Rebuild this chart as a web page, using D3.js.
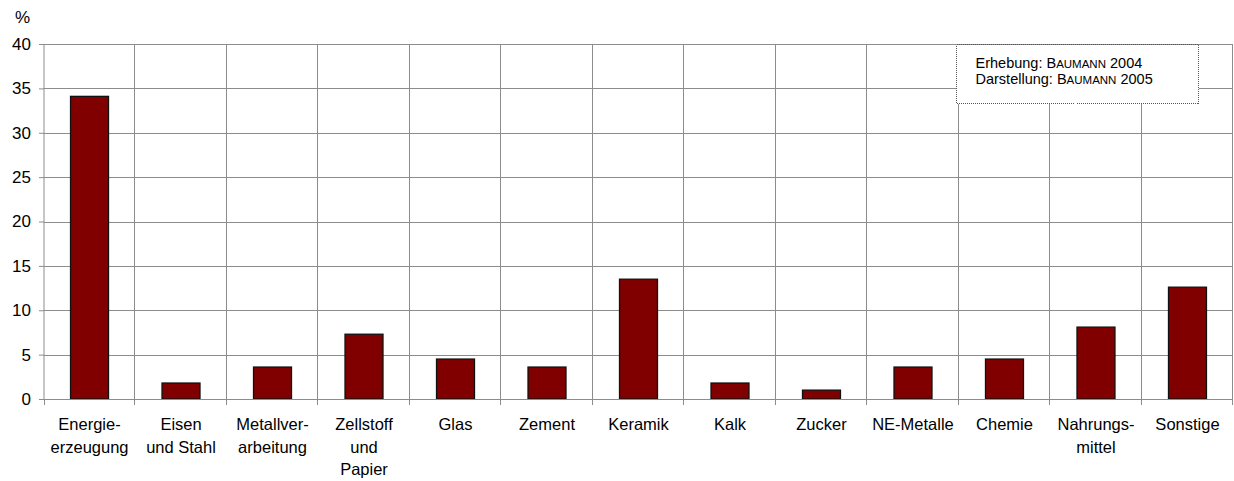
<!DOCTYPE html>
<html>
<head>
<meta charset="utf-8">
<script src="https://cdn.jsdelivr.net/npm/d3@7"></script>
<style>
  body { margin: 0; background: #fff; }
  text { font-family: Arial, "Liberation Sans", sans-serif; fill: #000; }
</style>
</head>
<body>
<div id="chart"></div>
<script>
// categories (line breaks as in the original labels)
const categories = [
    ["Energie-", "erzeugung"],
    ["Eisen", "und Stahl"],
    ["Metallver-", "arbeitung"],
    ["Zellstoff", "und", "Papier"],
    ["Glas"],
    ["Zement"],
    ["Keramik"],
    ["Kalk"],
    ["Zucker"],
    ["NE-Metalle"],
    ["Chemie"],
    ["Nahrungs-", "mittel"],
    ["Sonstige"]
];
const values = [34.1, 1.8, 3.6, 7.3, 4.5, 3.6, 13.5, 1.8, 1.0, 3.6, 4.5, 8.1, 12.6];
const yTicks = [0, 5, 10, 15, 20, 25, 30, 35, 40];

const width = 1234, height = 481;
const margins = {top: 44, right: 1, bottom: 82, left: 44};
const plotW = width - margins.left - margins.right;
const plotH = height - margins.top - margins.bottom;

const svg = d3.select("#chart").append("svg")
    .attr("width", width)
    .attr("height", height);

const g = svg.append("g")
    .attr("transform", "translate(" + margins.left + "," + margins.top + ")");

const x = d3.scaleBand()
    .domain(d3.range(categories.length))
    .range([0, plotW])
    .paddingInner(0.585)
    .paddingOuter(0.29);

const y = d3.scaleLinear().domain([0, 40]).range([plotH, 0]);

const bounds = d3.range(categories.length + 1).map(i => i * plotW / categories.length);

// horizontal gridlines
g.append("g").selectAll("line")
    .data(yTicks.filter(d => d > 0))
    .enter().append("line")
    .attr("x1", 0).attr("x2", plotW)
    .attr("y1", d => Math.round(y(d)) + 0.5)
    .attr("y2", d => Math.round(y(d)) + 0.5)
    .attr("stroke", "#8c8c8c");

// vertical gridlines between categories (they go on as tick marks below the axis)
g.append("g").selectAll("line")
    .data(bounds.slice(1))
    .enter().append("line")
    .attr("x1", d => Math.round(d) - 0.5).attr("x2", d => Math.round(d) - 0.5)
    .attr("y1", 0).attr("y2", plotH + 6)
    .attr("stroke", "#8c8c8c");

// note box
const note = g.append("g").attr("transform", "translate(912.5,0.5)");
note.append("rect")
    .attr("width", 242).attr("height", 59)
    .attr("fill", "#fff")
    .attr("stroke", "#555")
    .attr("stroke-dasharray", "1,1")
    .attr("shape-rendering", "crispEdges");
const noteLines = [["Erhebung: B", "AUMANN", " 2004"], ["Darstellung: B", "AUMANN", " 2005"]];
noteLines.forEach((ln, i) => {
    const t = note.append("text")
        .attr("x", 19).attr("y", 23.5 + i * 15.5)
        .style("font-size", "14.5px");
    t.append("tspan").text(ln[0]);
    t.append("tspan").style("font-size", "11.5px").text(ln[1]);
    t.append("tspan").text(ln[2]);
});

// bars
g.append("g").selectAll("rect")
    .data(values)
    .enter().append("rect")
    .attr("x", (d, i) => x(i))
    .attr("y", d => y(d))
    .attr("width", x.bandwidth())
    .attr("height", d => plotH - y(d))
    .attr("fill", "#800000")
    .attr("stroke", "#111")
    .attr("stroke-width", 1.3);

// y axis
const yAxis = g.append("g")
    .call(d3.axisLeft(y).tickValues(yTicks).tickSize(5).tickPadding(8));
yAxis.select(".domain").attr("stroke", "#8c8c8c").attr("d", "M0," + plotH + "V0");
yAxis.selectAll(".tick line").attr("stroke", "#8c8c8c");
yAxis.selectAll(".tick text")
    .style("font-size", "17px")
    .style("font-family", "Arial, 'Liberation Sans', sans-serif");

// x axis baseline
g.append("line")
    .attr("x1", 0).attr("x2", plotW)
    .attr("y1", plotH + 0.5).attr("y2", plotH + 0.5)
    .attr("stroke", "#8c8c8c");
g.append("line")
    .attr("x1", 0.5).attr("x2", 0.5)
    .attr("y1", plotH).attr("y2", plotH + 6)
    .attr("stroke", "#8c8c8c");

// category labels
const labels = g.append("g").selectAll("text")
    .data(categories)
    .enter().append("text")
    .attr("text-anchor", "middle")
    .attr("transform", (d, i) => "translate(" + (x(i) + x.bandwidth() / 2) + "," + (plotH + 31) + ")")
    .style("font-size", "16.5px");
labels.selectAll("tspan")
    .data(d => d)
    .enter().append("tspan")
    .attr("x", 0)
    .attr("y", (d, i) => i * 22.5)
    .text(d => d);

// unit label
svg.append("text")
    .attr("x", 15).attr("y", 23)
    .style("font-size", "17px")
    .text("%");
</script>
</body>
</html>
